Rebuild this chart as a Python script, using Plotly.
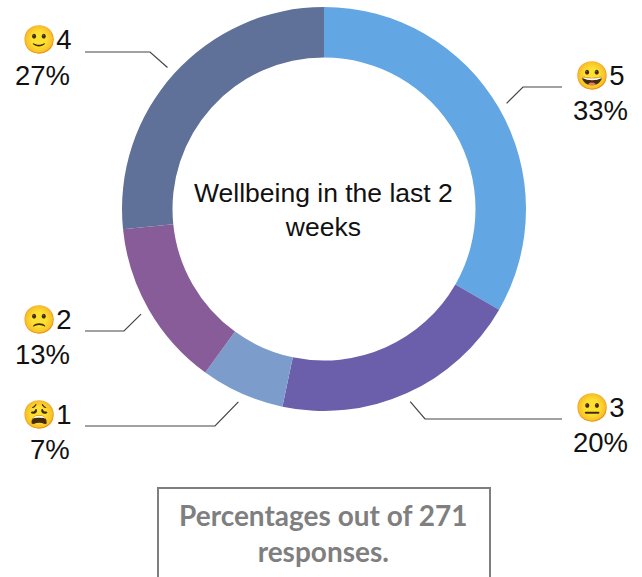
import plotly.graph_objects as go
import math

W, H = 642, 577
scores = ["5", "3", "1", "2", "4"]
emojis = ["😀", "😐", "😩", "🙁", "🙂"]
shares = [33.3, 20, 6.7, 13.4, 26.6]
colors = ["#62A6E3", "#6B5EAA", "#7C9DCB", "#875C98", "#5F7198"]
title_text = "Wellbeing in the last 2<br>weeks"
note_text = "Percentages out of 271<br>responses."

CX, CY, R = 324, 209, 202
def px(x): return x / W
def py(y): return 1 - y / H

fig = go.Figure(go.Pie(
    values=shares, labels=scores, sort=False, direction="clockwise", rotation=0,
    hole=0.75, marker=dict(colors=colors, line=dict(width=0)), textinfo="none",
    hoverinfo="label+percent", showlegend=False,
    domain=dict(x=[px(CX - R), px(CX + R)], y=[py(CY + R), py(CY - R)]),
))

layouts = {
    "5": dict(ex=562, elbow=(523, 87), lx=630, ex_lx=627, ly=75),
    "3": dict(ex=562, elbow=(425, 419), lx=630, ex_lx=627, ly=407),
    "1": dict(ex=85, elbow=(215, 426), lx=72, ex_lx=74, ly=414),
    "2": dict(ex=85, elbow=(124, 331), lx=72, ex_lx=74, ly=319),
    "4": dict(ex=85, elbow=(150, 52), lx=72, ex_lx=74, ly=40),
}
shapes, ann = [], []
cum = 0
total = sum(shares)
for s, e, v in zip(scores, emojis, shares):
    mid = (cum + v / 2) / total * 2 * math.pi
    cum += v
    ax, ay = CX + 211 * math.sin(mid), CY - 211 * math.cos(mid)
    L = layouts[s]
    ex, ey = L["elbow"]
    shapes.append(dict(type="path", xref="paper", yref="paper",
        path=f"M{px(ax)},{py(ay)} L{px(ex)},{py(ey)} L{px(L['ex'])},{py(ey)}",
        line=dict(color="#444444", width=1.2)))
    ann.append(dict(x=px(L["ex_lx"]), y=py(L["ly"]), xref="paper", yref="paper", showarrow=False,
        xanchor="right", yanchor="middle",
        text=f"{e}{s}", font=dict(family="Liberation Sans, Noto Color Emoji", size=27.5, color="#111111")))
    ann.append(dict(x=px(L["lx"]), y=py(L["ly"] + 35.5), xref="paper", yref="paper", showarrow=False,
        xanchor="right", yanchor="middle",
        text=f"{round(v)}%", font=dict(family="Liberation Sans", size=27.5, color="#111111")))

ann.append(dict(x=px(CX - 1), y=py(210), xref="paper", yref="paper", showarrow=False,
    xanchor="center", yanchor="middle",
    text=title_text, align="center", font=dict(family="Liberation Sans", size=26.5, color="#111111")))
ann.append(dict(x=px(323), y=py(533), xref="paper", yref="paper", showarrow=False,
    xanchor="center", yanchor="middle",
    text=note_text, align="center", font=dict(family="Lato", size=28, color="#7f7f7f", weight="bold")))
shapes.append(dict(type="rect", xref="paper", yref="paper", x0=px(158), x1=px(490), y0=py(488), y1=py(590),
    line=dict(color="#7f7f7f", width=2), fillcolor="rgba(0,0,0,0)"))

fig.update_layout(width=W, height=H, margin=dict(l=0, r=0, t=0, b=0),
    paper_bgcolor="white", plot_bgcolor="white", shapes=shapes, annotations=ann)
fig.write_html("out.html", config=dict(displayModeBar=False),
               post_script="document.body.style.margin='0';")
